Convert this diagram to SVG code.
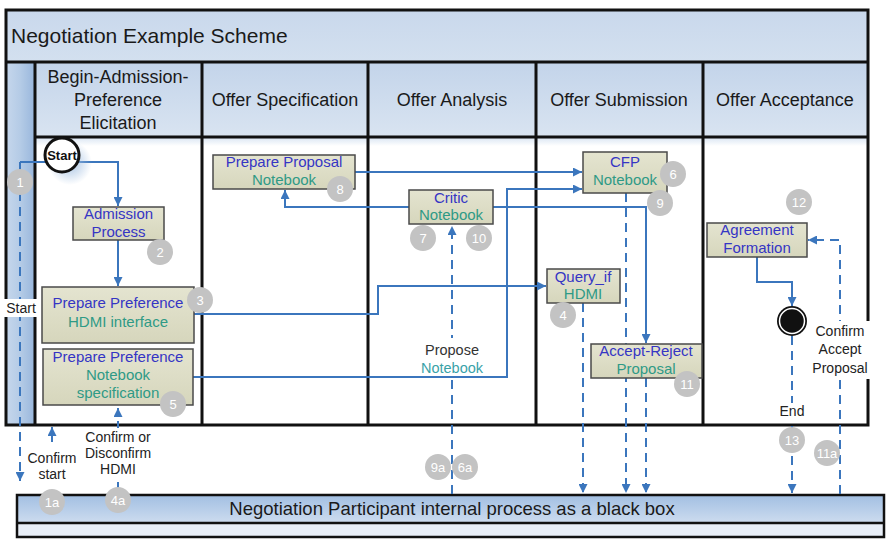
<svg xmlns="http://www.w3.org/2000/svg" width="888" height="540" viewBox="0 0 888 540">
<defs>
<linearGradient id="gHead" x1="0" y1="0" x2="0" y2="1"><stop offset="0" stop-color="#c3d4ea"/><stop offset="1" stop-color="#d9e4f1"/></linearGradient>
<linearGradient id="gTitle" x1="0" y1="0" x2="0" y2="1"><stop offset="0" stop-color="#c9d8ec"/><stop offset="1" stop-color="#d3e0ef"/></linearGradient>
<linearGradient id="gLeft" x1="0" y1="0" x2="1" y2="0"><stop offset="0" stop-color="#c6d7ec"/><stop offset="0.5" stop-color="#b4cbe6"/><stop offset="1" stop-color="#98b6dc"/></linearGradient>
<linearGradient id="gBox" x1="0" y1="0" x2="0" y2="1"><stop offset="0" stop-color="#e4e4d0"/><stop offset="1" stop-color="#d6d6bc"/></linearGradient>
<linearGradient id="gBottom" x1="0" y1="0" x2="0" y2="1"><stop offset="0" stop-color="#a2bfe2"/><stop offset="1" stop-color="#cddcef"/></linearGradient>
<linearGradient id="gStrip" x1="0" y1="0" x2="0" y2="1"><stop offset="0" stop-color="#d8e4f2"/><stop offset="1" stop-color="#ffffff"/></linearGradient>
<radialGradient id="gGlow"><stop offset="0" stop-color="#9fbde0" stop-opacity="0.9"/><stop offset="1" stop-color="#9fbde0" stop-opacity="0"/></radialGradient>
<marker id="ah" viewBox="0 0 10 10" refX="10" refY="5" markerWidth="9" markerHeight="9" markerUnits="userSpaceOnUse" orient="auto"><path d="M0,0 L10,5 L0,10 z" fill="#3b76bd"/></marker>
<style>
.frame{fill:none;stroke:#111;stroke-width:3}
.sep{stroke:#111;stroke-width:3}
.box{fill:url(#gBox);stroke:#4a4a4a;stroke-width:1.5}
.t{font-family:"Liberation Sans",Arial,sans-serif;text-anchor:middle}
.hd{font-size:18px;fill:#1a1a1a}
.bt{font-size:15px}
.blue{fill:#3535c4}
.teal{fill:#2f9a86}
.lbl{font-size:14px;fill:#222}
.badge circle{fill:#c3c3c3}
.badge text{font-family:"Liberation Sans",Arial,sans-serif;font-size:13px;fill:#fff;text-anchor:middle}
.ln{fill:none;stroke:#3b76bd;stroke-width:2}
.dash{fill:none;stroke:#3b76bd;stroke-width:2;stroke-dasharray:9,6}
</style>
</defs>
<rect width="888" height="540" fill="#ffffff"/>

<g id="pool">
<rect x="6" y="10" width="862" height="52" fill="url(#gTitle)"/>
<text x="11" y="43" style="font-family:'Liberation Sans',Arial,sans-serif;font-size:21px;fill:#1a1a1a">Negotiation Example Scheme</text>
<rect x="6" y="62" width="29" height="363" fill="url(#gLeft)"/>
<rect x="35" y="62" width="167" height="75" fill="url(#gHead)"/>
<rect x="202" y="62" width="166" height="75" fill="url(#gHead)"/>
<rect x="368" y="62" width="168" height="75" fill="url(#gHead)"/>
<rect x="536" y="62" width="167" height="75" fill="url(#gHead)"/>
<rect x="703" y="62" width="165" height="75" fill="url(#gHead)"/>
<rect x="35" y="137" width="833" height="9" fill="url(#gStrip)"/>
<text class="t hd" x="118" y="83">Begin-Admission-</text>
<text class="t hd" x="118" y="106">Preference</text>
<text class="t hd" x="118" y="129">Elicitation</text>
<text class="t hd" x="285" y="106">Offer Specification</text>
<text class="t hd" x="452" y="106">Offer Analysis</text>
<text class="t hd" x="619" y="106">Offer Submission</text>
<text class="t hd" x="785" y="106">Offer Acceptance</text>
<rect class="frame" x="6" y="10" width="862" height="415"/>
<line class="sep" x1="6" y1="62" x2="868" y2="62"/>
<line class="sep" x1="35" y1="137" x2="868" y2="137"/>
<line class="sep" x1="35" y1="62" x2="35" y2="425"/>
<line class="sep" x1="202" y1="62" x2="202" y2="425"/>
<line class="sep" x1="368" y1="62" x2="368" y2="425"/>
<line class="sep" x1="536" y1="62" x2="536" y2="425"/>
<line class="sep" x1="703" y1="62" x2="703" y2="425"/>
</g>

<g id="blackbox">
<rect x="17" y="495" width="867" height="28" fill="url(#gBottom)"/>
<rect x="17" y="523" width="867" height="14" fill="#e8eef7"/>
<rect x="17" y="495" width="867" height="42" fill="none" stroke="#111" stroke-width="2.5"/>
<line x1="17" y1="523" x2="884" y2="523" stroke="#111" stroke-width="2.5"/>
<text class="t" x="452" y="515" style="font-size:18.5px;fill:#1a1a1a">Negotiation Participant internal process as a black box</text>
</g>

<g id="connectors">
<path class="ln" d="M20 162 H118 V206" marker-end="url(#ah)"/>
<path class="dash" d="M20 162 V481" marker-end="url(#ah)"/>
<path class="ln" d="M118 240 V286" marker-end="url(#ah)"/>
<path class="ln" d="M194 314 H378 V286 H546" marker-end="url(#ah)"/>
<path class="ln" d="M193 377 H507 V189 H582" marker-end="url(#ah)"/>
<path class="ln" d="M355 172 H582" marker-end="url(#ah)"/>
<path class="ln" d="M409 207 H285 V190" marker-end="url(#ah)"/>
<path class="ln" d="M493 207 H646 V343" marker-end="url(#ah)"/>
<path class="ln" d="M757 257 V282 H792 V306" marker-end="url(#ah)"/>
<path class="dash" d="M452 494 V226" marker-end="url(#ah)"/>
<path class="dash" d="M583 303 V493" marker-end="url(#ah)"/>
<path class="dash" d="M626 193 V493" marker-end="url(#ah)"/>
<path class="dash" d="M646 378 V493" marker-end="url(#ah)"/>
<path class="dash" d="M792 336 V493" marker-end="url(#ah)"/>
<path class="dash" d="M840 494 V240 H808" marker-end="url(#ah)"/>
<path class="dash" d="M118 490 V408" marker-end="url(#ah)"/>
<path class="ln" d="M52 442 V427" marker-end="url(#ah)"/>
<rect x="4" y="299" width="34" height="18" fill="#ffffff"/>
<text class="t lbl" x="21" y="313">Start</text>
<text class="t lbl" x="52" y="463">Confirm</text>
<text class="t lbl" x="52" y="479">start</text>
<rect x="82" y="428" width="72" height="54" fill="#ffffff"/>
<text class="t lbl" x="118" y="442">Confirm or</text>
<text class="t lbl" x="118" y="458">Disconfirm</text>
<text class="t lbl" x="118" y="474">HDMI</text>
<rect x="418" y="338" width="68" height="38" fill="#ffffff"/>
<text class="t" x="452" y="355" style="font-size:14.5px;fill:#333">Propose</text>
<text class="t" x="452" y="373" style="font-size:14.5px;fill:#3aa2a8">Notebook</text>
<rect x="810" y="321" width="62" height="58" fill="#ffffff"/>
<text class="t lbl" x="840" y="336">Confirm</text>
<text class="t lbl" x="840" y="354">Accept</text>
<text class="t lbl" x="840" y="373">Proposal</text>
<rect x="776" y="403" width="32" height="17" fill="#ffffff"/>
<text class="t lbl" x="792" y="416">End</text>
</g>

<g id="start">
<circle cx="70" cy="163" r="22" fill="url(#gGlow)"/>
<circle cx="62" cy="155" r="17" fill="#ffffff" stroke="#111" stroke-width="3"/>
<text class="t" x="62" y="160" style="font-size:13px;fill:#111;font-weight:bold">Start</text>
</g>

<g id="end">
<circle cx="792" cy="321" r="15" fill="#111"/>
<circle cx="792" cy="321" r="12.5" fill="#111" stroke="#fff" stroke-width="1.5"/>
</g>

<g id="admission">
<rect class="box" x="73" y="207" width="91" height="33"/>
<text class="t bt blue" x="118.5" y="219">Admission</text>
<text class="t bt blue" x="118.5" y="237">Process</text>
</g>

<g id="prep-hdmi">
<rect class="box" x="42" y="287" width="152" height="56"/>
<text class="t bt blue" x="118" y="308">Prepare Preference</text>
<text class="t bt teal" x="118" y="327">HDMI interface</text>
</g>

<g id="prep-notebook">
<rect class="box" x="43" y="349" width="150" height="56"/>
<text class="t bt blue" x="118" y="362">Prepare Preference</text>
<text class="t bt teal" x="118" y="380">Notebook</text>
<text class="t bt teal" x="118" y="398">specification</text>
</g>

<g id="prep-proposal">
<rect class="box" x="213" y="155" width="142" height="34"/>
<text class="t bt blue" x="284" y="167">Prepare Proposal</text>
<text class="t bt teal" x="284" y="185">Notebook</text>
</g>

<g id="critic">
<rect class="box" x="409" y="190" width="84" height="34"/>
<text class="t bt blue" x="451" y="203">Critic</text>
<text class="t bt teal" x="451" y="220">Notebook</text>
</g>

<g id="cfp">
<rect class="box" x="583" y="152" width="84" height="41"/>
<text class="t bt blue" x="625" y="167">CFP</text>
<text class="t bt teal" x="625" y="185">Notebook</text>
</g>

<g id="query">
<rect class="box" x="547" y="269" width="73" height="34"/>
<text class="t bt blue" x="583" y="282">Query_if</text>
<text class="t bt teal" x="583" y="299">HDMI</text>
</g>

<g id="accept-reject">
<rect class="box" x="591" y="344" width="111" height="34"/>
<text class="t bt blue" x="646" y="356">Accept-Reject</text>
<text class="t bt teal" x="646" y="374">Proposal</text>
</g>

<g id="agreement">
<rect class="box" x="707" y="223" width="100" height="34"/>
<text class="t bt blue" x="757" y="235">Agreement</text>
<text class="t bt blue" x="757" y="253">Formation</text>
</g>

<g id="badges" class="badge">
<g id="b1"><circle cx="20" cy="182" r="13"/><text x="20" y="187">1</text></g>
<g id="b1a"><circle cx="52" cy="502" r="13"/><text x="52" y="507">1a</text></g>
<g id="b2"><circle cx="160" cy="252" r="13"/><text x="160" y="257">2</text></g>
<g id="b3"><circle cx="200" cy="300" r="13"/><text x="200" y="305">3</text></g>
<g id="b4"><circle cx="563" cy="315" r="13"/><text x="563" y="320">4</text></g>
<g id="b4a"><circle cx="118" cy="500" r="13"/><text x="118" y="505">4a</text></g>
<g id="b5"><circle cx="173" cy="404" r="13"/><text x="173" y="409">5</text></g>
<g id="b6"><circle cx="673" cy="174" r="13"/><text x="673" y="179">6</text></g>
<g id="b6a"><circle cx="465" cy="467" r="13"/><text x="465" y="472">6a</text></g>
<g id="b7"><circle cx="423" cy="238" r="13"/><text x="423" y="243">7</text></g>
<g id="b8"><circle cx="340" cy="189" r="13"/><text x="340" y="194">8</text></g>
<g id="b9"><circle cx="660" cy="203" r="13"/><text x="660" y="208">9</text></g>
<g id="b9a"><circle cx="438" cy="467" r="13"/><text x="438" y="472">9a</text></g>
<g id="b10"><circle cx="479" cy="238" r="13"/><text x="479" y="243">10</text></g>
<g id="b11"><circle cx="687" cy="384" r="13"/><text x="687" y="389">11</text></g>
<g id="b11a"><circle cx="827" cy="453" r="13"/><text x="827" y="458">11a</text></g>
<g id="b12"><circle cx="799" cy="202" r="13"/><text x="799" y="207">12</text></g>
<g id="b13"><circle cx="792" cy="440" r="13"/><text x="792" y="445">13</text></g>
</g>
</svg>
